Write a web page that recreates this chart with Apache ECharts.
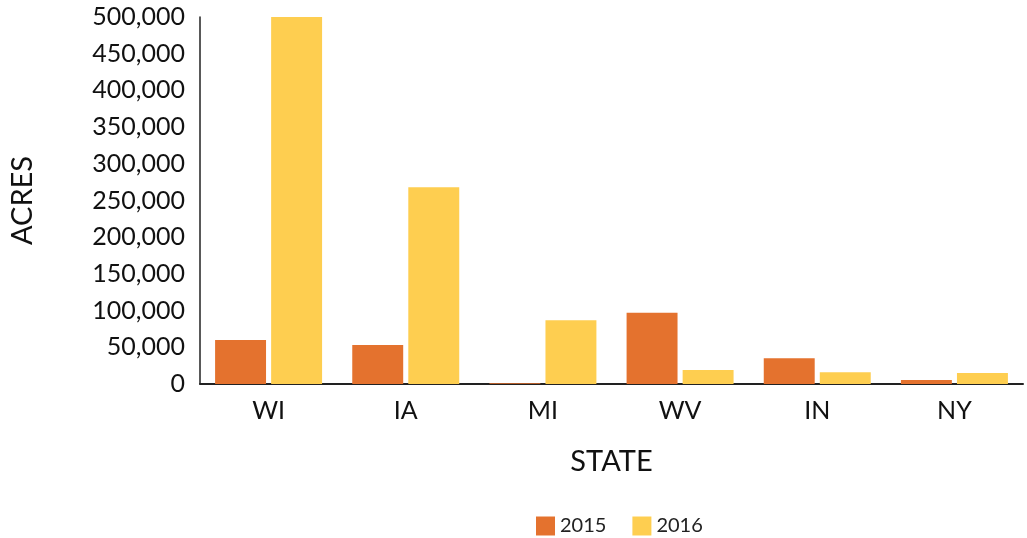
<!DOCTYPE html>
<html>
<head>
<meta charset="utf-8">
<script src="https://cdn.jsdelivr.net/npm/echarts@6/dist/echarts.min.js"></script>
<style>
  html, body { margin: 0; padding: 0; background: #fff; }
  #chart { width: 1027px; height: 538px; }
</style>
</head>
<body>
<div id="chart"></div>
<script>
const states = ['WI', 'IA', 'MI', 'WV', 'IN', 'NY'];
const acres2015 = [60000, 53000, 1000, 97000, 35000, 5500];
const acres2016 = [500000, 268000, 87000, 19000, 16000, 15000];

const fontFamily = 'Lato';

const chart = echarts.init(document.getElementById('chart'));
chart.setOption({
  animation: false,
  textStyle: { fontFamily: fontFamily },
  grid: { left: 198, right: 4, top: 17, bottom: 154 },
  legend: {
    top: 511,
    left: 531,
    itemWidth: 19,
    itemHeight: 19,
    itemGap: 26,
    icon: 'rect',
    textStyle: { fontSize: 20, color: '#222', fontFamily: fontFamily },
    data: ['2015', '2016']
  },
  xAxis: {
    type: 'category',
    data: states,
    name: 'STATE',
    nameLocation: 'middle',
    nameGap: 63,
    nameTextStyle: { fontSize: 29, color: '#111' },
    axisLine: { lineStyle: { color: '#222', width: 2 } },
    axisTick: { show: false },
    axisLabel: { fontSize: 25, color: '#111', margin: 14 }
  },
  yAxis: {
    type: 'value',
    min: 0,
    max: 500000,
    interval: 50000,
    name: 'ACRES',
    nameLocation: 'middle',
    nameGap: 163,
    nameTextStyle: { fontSize: 29, color: '#111' },
    axisLine: { show: true, lineStyle: { color: '#222', width: 1.5 } },
    axisTick: { show: false },
    splitLine: { show: false },
    axisLabel: {
      fontSize: 25,
      color: '#111',
      margin: 15,
      formatter: v => v.toLocaleString('en-US')
    }
  },
  series: [
    {
      name: '2015',
      type: 'bar',
      data: acres2015,
      barGap: '10%',
      barCategoryGap: '22%',
      itemStyle: { color: '#E4722E' }
    },
    {
      name: '2016',
      type: 'bar',
      data: acres2016,
      itemStyle: { color: '#FECE50' }
    }
  ]
});
</script>
</body>
</html>
